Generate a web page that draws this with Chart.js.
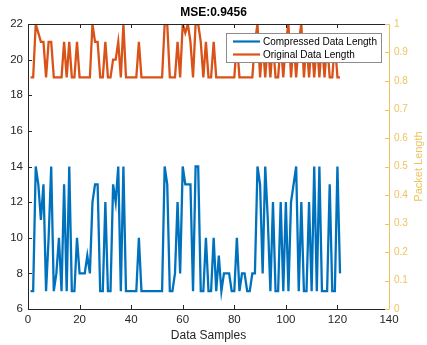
<!DOCTYPE html>
<html><head><meta charset="utf-8">
<script src="https://cdn.jsdelivr.net/npm/chart.js@4.4.1/dist/chart.umd.min.js"></script>
<style>html,body{margin:0;padding:0;background:#fff;overflow:hidden}</style>
</head><body>
<canvas id="c" width="427" height="345"></canvas>
<script>
// ---- data (sample index = position in array, starting at 1) ----
const compressedLength = [7,7,14,13,11,13,7,10,14,7,8,10,7,13,7,14,7,7,10,8,
  8,8,9,8,12,13,13,7,7,12,7,7,13,12,14,7,14,7,7,7,
  7,7,10,7,7,7,7,7,7,7,7,7,14,13,7,7,8,12,8,14,
  13,13,13,7,14,14,7,7,10,7,7,10,7,9,7,8,8,8,7,7,
  10,7,8,8,7,7,8,8,14,13,8,14,11,7,12,7,7,12,7,12,
  7,12,13,14,7,12,7,7,12,7,14,7,14,7,7,7,13,7,7,14,8];
const originalLength = [19,19,22,21.5,21,21,19,21,21,19,19,19,19,21,19,21,19,19,21,19,
  19,19,19,19,22,21,21,19,19,21,19,19,20,20,21,19,22,19,19,19,
  19,19,21,19,19,19,19,19,19,19,19,19,22,22,19,19,19,21,19,22,
  21.5,22,21,19,22,22,21,19,21,19,19,21,19,19,19,19,19,19,19,19,
  21,19,19,19,19,19,19,21,22,19,21,19,21,19,21,19,19,21,19,21,
  22,19,21,19,21,22,19,21,19,21,19,21,19,21,19,21,19,19,21,19,19];
const seriesNames = ['Compressed Data Length','Original Data Length'];
const xTicks = [0,20,40,60,80,100,120,140];
const leftTicks = [6,8,10,12,14,16,18,20,22];
const rightTicks = [0,0.1,0.2,0.3,0.4,0.5,0.6,0.7,0.8,0.9,1];
const titleText = 'MSE:0.9456';
const xTitle = 'Data Samples';
const rightTitle = 'Packet Length';

const BLUE = '#0072BD', ORANGE = '#D95319', YEL = '#EDC45E', AX = '#262626';
const FONT = "'Liberation Sans', Arial, Helvetica, sans-serif";

const toPoints = arr => arr.map((v, i) => ({x: i + 1, y: v}));

const frame = {
  id: 'frame',
  afterDatasetsDraw(chart) {
    const {ctx, chartArea: a, scales} = chart;
    ctx.save();
    ctx.lineWidth = 1;
    ctx.strokeStyle = AX;
    ctx.beginPath();
    ctx.moveTo(a.left + 0.5, a.top + 0.5);
    ctx.lineTo(a.right, a.top + 0.5);
    ctx.moveTo(a.left + 0.5, a.top);
    ctx.lineTo(a.left + 0.5, a.bottom + 0.5);
    ctx.lineTo(a.right, a.bottom + 0.5);
    xTicks.forEach(v => {
      const p = Math.round(scales.x.getPixelForValue(v)) + 0.5;
      ctx.moveTo(p, a.bottom); ctx.lineTo(p, a.bottom - 4);
      ctx.moveTo(p, a.top); ctx.lineTo(p, a.top + 4);
    });
    leftTicks.forEach(v => {
      const p = Math.round(scales.y.getPixelForValue(v)) + 0.5;
      ctx.moveTo(a.left, p); ctx.lineTo(a.left + 4, p);
    });
    ctx.stroke();
    ctx.strokeStyle = YEL;
    ctx.beginPath();
    ctx.moveTo(a.right + 0.5, a.top);
    ctx.lineTo(a.right + 0.5, a.bottom + 0.5);
    rightTicks.forEach(v => {
      const p = Math.round(scales.y1.getPixelForValue(v)) + 0.5;
      ctx.moveTo(a.right, p); ctx.lineTo(a.right - 4, p);
    });
    ctx.stroke();
    // right axis title, reading bottom-to-top
    ctx.save();
    ctx.translate(419, (a.top + a.bottom) / 2);
    ctx.rotate(-Math.PI / 2);
    ctx.font = '11px ' + FONT;
    ctx.fillStyle = YEL;
    ctx.textAlign = 'center';
    ctx.textBaseline = 'middle';
    ctx.fillText(rightTitle, 0, 0);
    ctx.restore();
    // legend
    const lx = 226, ly = 33, lw = 155, lh = 29;
    ctx.fillStyle = '#fff';
    ctx.fillRect(lx, ly, lw, lh);
    ctx.lineWidth = 1;
    ctx.strokeStyle = '#8c8c8c';
    ctx.strokeRect(lx + 0.5, ly + 0.5, lw, lh);
    ctx.font = '10px ' + FONT;
    ctx.textBaseline = 'middle';
    ctx.textAlign = 'left';
    [BLUE, ORANGE].forEach((col, i) => {
      const y = ly + 8.5 + i * 13;
      ctx.strokeStyle = col; ctx.lineWidth = 2.2;
      ctx.beginPath(); ctx.moveTo(lx + 7, y); ctx.lineTo(lx + 34, y); ctx.stroke();
      ctx.fillStyle = '#000';
      ctx.fillText(seriesNames[i], lx + 37, y + 0.5);
    });
    ctx.restore();
  }
};

new Chart(document.getElementById('c'), {
  type: 'line',
  data: {
    datasets: [
      {label: seriesNames[0], data: toPoints(compressedLength), borderColor: BLUE, borderWidth: 2.3, pointRadius: 0, tension: 0, yAxisID: 'y'},
      {label: seriesNames[1], data: toPoints(originalLength), borderColor: ORANGE, borderWidth: 2.3, pointRadius: 0, tension: 0, yAxisID: 'y'}
    ]
  },
  options: {
    responsive: false,
    animation: false,
    devicePixelRatio: 1,
    layout: {padding: {top: 0, left: 0, right: 0, bottom: 0}},
    plugins: {
      legend: {display: false},
      tooltip: {enabled: false},
      title: {display: true, text: titleText, color: '#000', font: {family: FONT, size: 12, weight: 'bold'}, padding: {top: 5.5, bottom: 4.1}}
    },
    scales: {
      x: {
        type: 'linear', min: 0, max: 140,
        afterBuildTicks: s => { s.ticks = xTicks.map(v => ({value: v})); },
        ticks: {color: AX, font: {family: FONT, size: 11.5}, padding: 4, maxRotation: 0},
        grid: {display: false, drawTicks: false}, border: {display: false},
        title: {display: true, text: xTitle, color: AX, font: {family: FONT, size: 12}, padding: {top: 0, bottom: 2}},
        afterFit: s => { s.height = 36; }
      },
      y: {
        position: 'left', min: 6, max: 22,
        afterBuildTicks: s => { s.ticks = leftTicks.map(v => ({value: v})); },
        ticks: {color: AX, font: {family: FONT, size: 11.5}, padding: 5},
        grid: {display: false, drawTicks: false}, border: {display: false},
        afterFit: s => { s.width = 28; }
      },
      y1: {
        position: 'right', min: 0, max: 1,
        afterBuildTicks: s => { s.ticks = rightTicks.map(v => ({value: v})); },
        ticks: {color: YEL, font: {family: FONT, size: 10}, padding: 5, callback: v => String(Math.round(v * 10) / 10)},
        grid: {display: false, drawTicks: false}, border: {display: false},
        afterFit: s => { s.width = 38; }
      }
    }
  },
  plugins: [frame]
});
</script>
</body></html>
